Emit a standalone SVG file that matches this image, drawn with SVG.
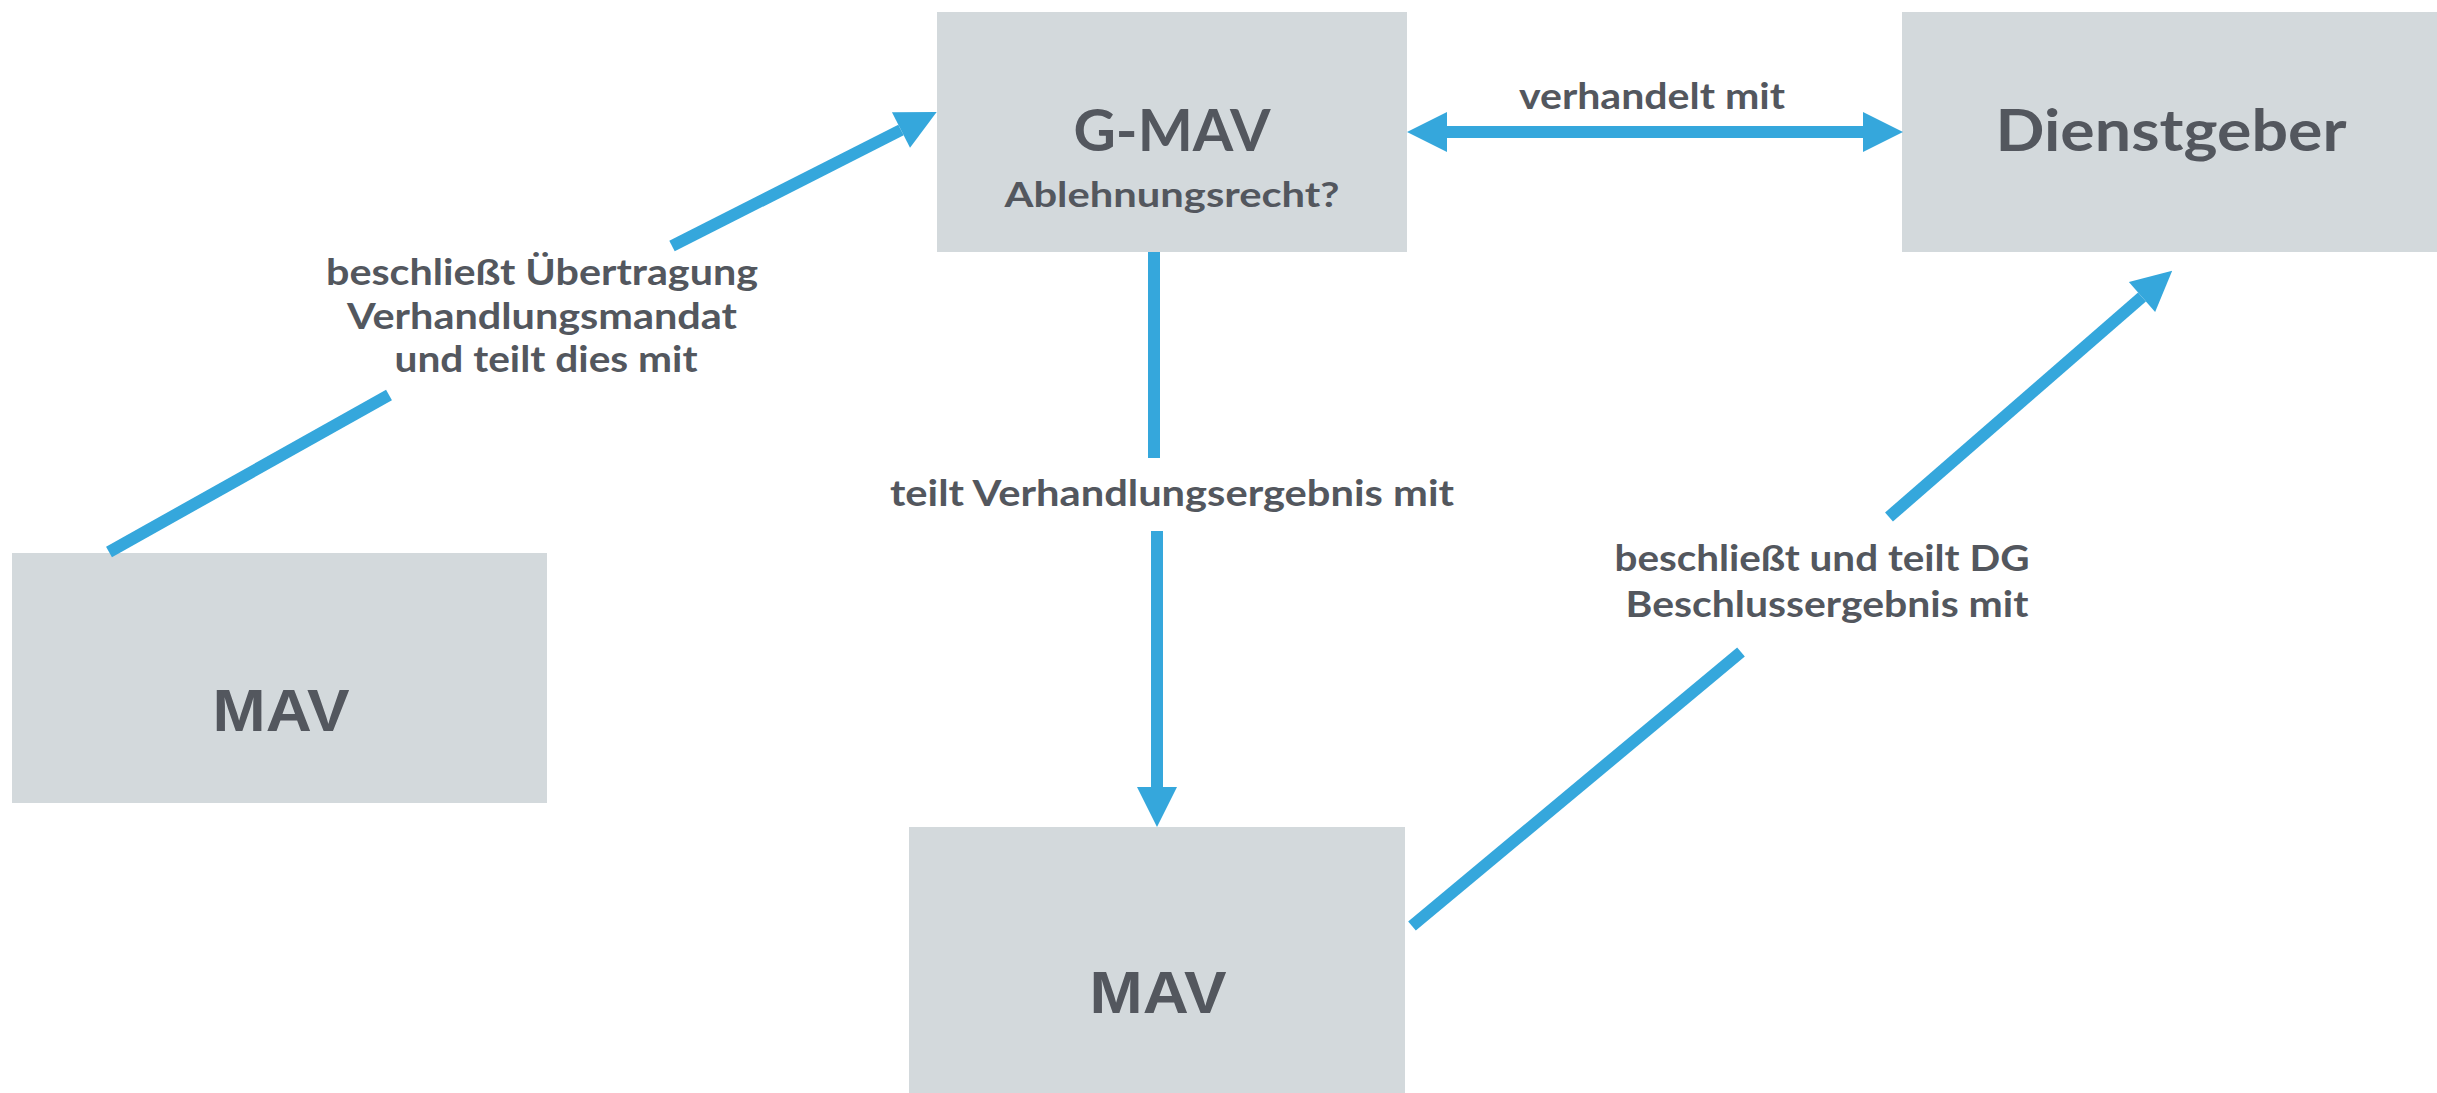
<svg xmlns="http://www.w3.org/2000/svg" width="2437" height="1093" viewBox="0 0 2437 1093">
<style>
.box{fill:#d3d9dc}
.t{font-family:Lato,"Noto Sans",sans-serif;font-weight:700;fill:#53575e;text-anchor:middle}
.big{font-size:58px}
.mav{font-family:"Liberation Sans",Arial,sans-serif;font-weight:700;fill:#53575e;text-anchor:middle;font-size:59px}
.sub{font-size:35px}
.lbl{font-size:37px}
.c{stroke:#35a7dc;stroke-width:12;fill:none}
</style>
<defs>
<marker id="ah" markerUnits="userSpaceOnUse" markerWidth="40" markerHeight="40" refX="0" refY="20" orient="auto-start-reverse" overflow="visible">
<path d="M0,0 L40,20 L0,40 z" fill="#35a7dc"/>
</marker>
</defs>
<rect width="2437" height="1093" fill="#ffffff"/>
<g id="node-gmav">
<rect class="box" x="937" y="12" width="470" height="240"/>
<text class="t big" x="1172" y="151" textLength="197" lengthAdjust="spacingAndGlyphs">G-MAV</text>
<text class="t sub" x="1172" y="207" textLength="335" lengthAdjust="spacingAndGlyphs">Ablehnungsrecht?</text>
</g>
<g id="node-dienstgeber">
<rect class="box" x="1902" y="12" width="535" height="240"/>
<text class="t big" x="2171" y="151" textLength="351" lengthAdjust="spacingAndGlyphs">Dienstgeber</text>
</g>
<g id="node-mav-left">
<rect class="box" x="12" y="553" width="535" height="250"/>
<text class="mav" x="281" y="731" textLength="137" lengthAdjust="spacingAndGlyphs">MAV</text>
</g>
<g id="node-mav-bottom">
<rect class="box" x="909" y="827" width="496" height="266"/>
<text class="mav" x="1158" y="1013" textLength="137" lengthAdjust="spacingAndGlyphs">MAV</text>
</g>
<g id="connectors">
<line class="c" x1="109" y1="552" x2="389" y2="395"/>
<line class="c" x1="672" y1="246" x2="901" y2="130" marker-end="url(#ah)"/>
<line class="c" x1="1447" y1="132" x2="1863" y2="132" stroke-width="13" marker-start="url(#ah)" marker-end="url(#ah)"/>
<line class="c" x1="1154" y1="252" x2="1154" y2="458" stroke-width="13"/>
<line class="c" x1="1157" y1="531" x2="1157" y2="787" stroke-width="13" marker-end="url(#ah)"/>
<line class="c" x1="1412" y1="926" x2="1741" y2="652"/>
<line class="c" x1="1889" y1="517" x2="2142" y2="297" marker-end="url(#ah)"/>
</g>
<g id="labels">
<text class="t lbl" x="1652" y="109" textLength="266" lengthAdjust="spacingAndGlyphs">verhandelt mit</text>
<text class="t lbl" x="542" y="285" textLength="432" lengthAdjust="spacingAndGlyphs">beschließt Übertragung</text>
<text class="t lbl" x="542" y="329" textLength="390" lengthAdjust="spacingAndGlyphs">Verhandlungsmandat</text>
<text class="t lbl" x="546" y="372" textLength="303" lengthAdjust="spacingAndGlyphs">und teilt dies mit</text>
<text class="t lbl" x="1172" y="506" textLength="564" lengthAdjust="spacingAndGlyphs">teilt Verhandlungsergebnis mit</text>
<text class="t lbl" x="1822" y="571" textLength="415" lengthAdjust="spacingAndGlyphs">beschließt und teilt DG</text>
<text class="t lbl" x="1827" y="617" textLength="403" lengthAdjust="spacingAndGlyphs">Beschlussergebnis mit</text>
</g>
</svg>
